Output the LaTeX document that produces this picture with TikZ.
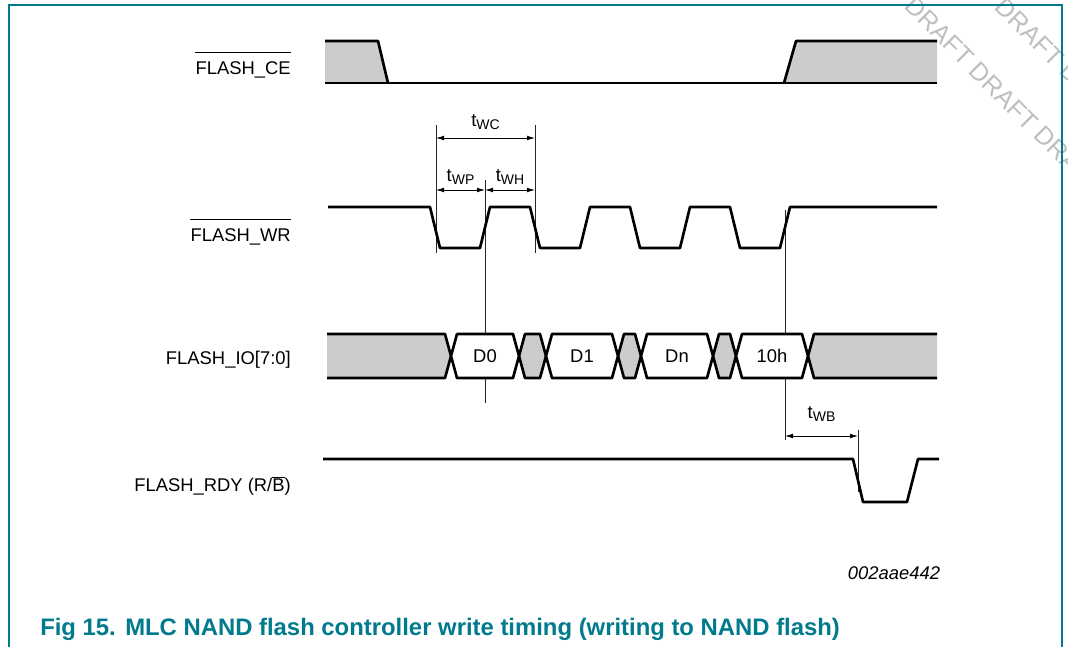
\documentclass[tikz,border=0pt]{standalone}
\usepackage{fontspec}
\setmainfont{Liberation Sans}
\usetikzlibrary{arrows.meta}
\definecolor{nxpteal}{RGB}{0,122,140}
\definecolor{busgray}{RGB}{204,204,204}
\newcommand{\tparam}[1]{t\raisebox{-2.2pt}{\fontsize{10.5}{12}\selectfont #1}}
\tikzstyle{wave} = [line width=2pt, line join=round]
\tikzstyle{refline} = [line width=0.6pt, black!85]
\tikzstyle{dimarrow} = [line width=0.6pt, {Latex[length=6pt,width=3.5pt]}-{Latex[length=6pt,width=3.5pt]}]
\tikzstyle{siglabel} = [anchor=base east, inner sep=0pt, font=\fontsize{13.8}{16}\selectfont]
\tikzstyle{buslabel} = [anchor=base, inner sep=0pt, font=\fontsize{13.8}{16}\selectfont]
\tikzstyle{tlabel} = [anchor=base, inner sep=0pt, font=\fontsize{13.8}{16}\selectfont]
\tikzstyle{caption} = [anchor=base west, inner sep=0pt, text=nxpteal, font=\fontsize{17.9}{20}\selectfont\bfseries]
\tikzstyle{draftmark} = [rotate=-45, text=black!25, font=\fontsize{19}{21}\selectfont]

\begin{document}
\begin{tikzpicture}[x=0.75pt, y=-0.75pt]
    \useasboundingbox (0,0) rectangle (1068,647);

    % Watermark
    \begin{scope}
        \clip (0,0) rectangle (1068,647);
        \node (draftA) [draftmark] at (1004,96) {DRAFT DRAFT DRAFT};
        \node (draftB) [draftmark] at (1030,32) {DRAFT DRAFT DRAFT};
    \end{scope}

    % Frame
    \draw [nxpteal, line width=1.1pt] (9,647) -- (9,5) -- (1062,5) -- (1062,647);

    % Signal names
    \node (ce) [siglabel] at (291,74) {FLASH\_CE};
    \node (wr) [siglabel] at (291,241.5) {FLASH\_WR};
    \node (io) [siglabel] at (291,364.5) {FLASH\_IO[7:0]};
    \node (rdy) [siglabel] at (291,491.5) {FLASH\_RDY (R/$\overline{\mbox{B}}$)};
    \draw [line width=0.7pt] ([yshift=6.4pt]ce.north west) -- ([yshift=6.4pt]ce.north east);
    \draw [line width=0.7pt] ([yshift=6.4pt]wr.north west) -- ([yshift=6.4pt]wr.north east);

    % Timing reference lines
    \foreach \x/\ya/\yb in {436/125/253, 535/125/253, 485/180/403, 785/210/440, 858/430/492}
        \draw [refline] (\x,\ya) -- (\x,\yb);

    % FLASH_CE
    \fill [busgray] (325,41) -- (378,41) -- (388,83) -- (325,83) -- cycle;
    \fill [busgray] (784,83) -- (796,41) -- (937,41) -- (937,83) -- cycle;
    \draw [wave] (325,41) -- (378,41) -- (388,83);
    \draw [wave] (325,83) -- (937,83);
    \draw [wave] (784,83) -- (796,41) -- (937,41);

    % FLASH_WR
    \draw [wave] (328,207)
        \foreach \x in {430,530,630,730} { -- (\x,207) -- (\x+10,248) -- (\x+50,248) -- (\x+60,207) }
        -- (937,207);

    % FLASH_IO[7:0]
    \fill [busgray] (327,334) -- (445,334) -- (451,356) -- (445,378) -- (327,378) -- cycle;
    \draw [wave] (327,334) -- (445,334) -- (451,356) -- (445,378) -- (327,378);
    \fill [busgray] (937,334) -- (814,334) -- (808,356) -- (814,378) -- (937,378) -- cycle;
    \draw [wave] (937,334) -- (814,334) -- (808,356) -- (814,378) -- (937,378);
    \foreach \a/\b in {519/546, 618/641, 713/736}
        \draw [wave, fill=busgray] (\a,356) -- (\a+6,334) -- (\b-6,334) -- (\b,356) -- (\b-6,378) -- (\a+6,378) -- cycle;
    \foreach \a/\b/\lbl/\name in {451/519/D0/dzero, 546/618/D1/done, 641/713/Dn/dn, 736/808/10h/cmd} {
        \draw [wave, fill=white] (\a,356) -- (\a+6,334) -- (\b-6,334) -- (\b,356) -- (\b-6,378) -- (\a+6,378) -- cycle;
        \node (\name) [buslabel] at ({(\a+\b)/2},362.6) {\lbl};
    }

    % FLASH_RDY
    \draw [wave] (323,459) -- (853,459) -- (863,502) -- (907,502) -- (918,459) -- (939,459);

    % Timing arrows
    \coordinate (wcL) at (436,138);
    \coordinate (wcR) at (535,138);
    \coordinate (wpL) at (436,190);
    \coordinate (wpR) at (485,190);
    \coordinate (whR) at (535,190);
    \coordinate (wbL) at (785,436);
    \coordinate (wbR) at (858,436);
    \draw [dimarrow] (wcL) -- node (twc) [tlabel, yshift=8.6pt] {\tparam{WC}} (wcR);
    \draw [dimarrow] (wpL) -- node (twp) [tlabel, yshift=6.4pt] {\tparam{WP}} (wpR);
    \draw [dimarrow] (wpR) -- node (twh) [tlabel, yshift=6.4pt] {\tparam{WH}} (whR);
    \draw [dimarrow] (wbL) -- node (twb) [tlabel, yshift=13pt] {\tparam{WB}} (wbR);

    % Figure code and caption
    \node (figid) [anchor=base, inner sep=0pt, font=\fontsize{13.8}{16}\selectfont\itshape] at (894,579.6) {002aae442};
    \node (fignum) [caption] at (40,635) {Fig 15.};
    \node (figtitle) [caption] at (125,635) {MLC NAND flash controller write timing (writing to NAND flash)};

\end{tikzpicture}
\end{document}
